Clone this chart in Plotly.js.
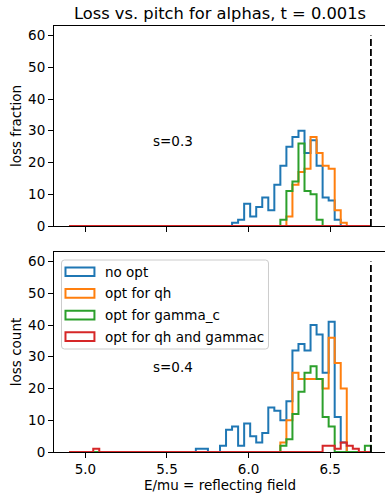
<!DOCTYPE html>
<html><head><meta charset="utf-8">
<script src="https://cdn.plot.ly/plotly-3.0.1.min.js"></script>
<style>html,body{margin:0;padding:0;overflow:hidden;background:#fff}#chart{width:390px;height:493px}</style>
</head><body><div id="chart"></div><script>
// ---- data ----
const binStart = 4.9;
const binEnd = 6.75;
const nBins = 50;
const seriesNames = ["no opt", "opt for qh", "opt for gamma_c", "opt for qh and gammac"];
const seriesColors = ["#1f77b4", "#ff7f0e", "#2ca02c", "#d62728"];

// top panel: loss fraction (s=0.3)
const fracNoOpt = [0,0,0,0,0,0,0,0,0,0, 0,0,0,0,0,0,0,0,0,0, 0,0,0,0,0,0,0,1,2,7, 3,6,9,5,13,19,25,28,30,23, 27,19,9,8,2,0,0,0,0,0];
const fracQh    = [0,0,0,0,0,0,0,0,0,0, 0,0,0,0,0,0,0,0,0,0, 0,0,0,0,0,0,0,0,0,0, 0,0,0,0,0,0,3,13,17,18, 28,23,19,18,5,1,0,0,0,0];
const fracGamma = [0,0,0,0,0,0,0,0,0,0, 0,0,0,0,0,0,0,0,0,0, 0,0,0,0,0,0,0,0,0,0, 0,0,0,0,0,2,11,14,26,11, 10,2,0,0,0,0,0,0,0,0];
const fracBoth  = [0,0,0,0,0,0,0,0,0,0, 0,0,0,0,0,0,0,0,0,0, 0,0,0,0,0,0,0,0,0,0, 0,0,0,0,0,0,0,0,0,0, 0,0,0,0,0,0,0,0,0,0];

// bottom panel: loss count (s=0.4)
const cntNoOpt = [0,0,0,0,0,0,0,0,0,0, 0,0,0,0,0,0,0,0,0,0, 0,1,1,0,0,2,7,8,2,9, 5,3,6,14,13,10,16,32,34,32, 40,37,25,41,11,3,0,0,0,0];
const cntQh    = [0,0,0,0,0,0,0,0,0,0, 0,0,0,0,0,0,0,0,0,0, 0,0,0,0,0,0,0,0,0,0, 0,0,0,0,0,3,10,25,23,23, 23,23,20,36,28,20,0,0,0,0];
const cntGamma = [0,0,0,0,0,0,0,0,0,0, 0,0,0,0,0,0,0,0,0,0, 0,0,0,0,0,0,0,0,0,0, 0,0,0,0,0,2,4,12,19,25, 27,23,11,8,0,0,0,0,0,2];
const cntBoth  = [0,0,0,0,1,0,0,0,0,0, 0,0,0,0,0,0,0,0,0,0, 0,0,0,0,0,0,0,0,0,0, 0,0,0,0,0,0,0,0,0,0, 0,0,2,2,1,3,2,1,0,0];

const reflectX = 6.75;
const reflectY = [0, 60];
const xTickVals = [5.0, 5.5, 6.0, 6.5];
const yTickVals = [0, 10, 20, 30, 40, 50, 60];
const panelNotes = ["s=0.3", "s=0.4"];
const noteX = 5.40;
const noteY = 25;

// ---- build ----
const edges = Array.from({length: nBins + 1}, (_, i) => binStart + i * (binEnd - binStart) / nBins);
function step(counts) {
  const x = [edges[0]], y = [0];
  for (let i = 0; i < nBins; i++) { x.push(edges[i]); y.push(counts[i]); }
  x.push(edges[nBins]); y.push(0);
  return {x, y};
}
const traces = [];
const topSets = [fracNoOpt, fracQh, fracGamma, fracBoth];
const botSets = [cntNoOpt, cntQh, cntGamma, cntBoth];
topSets.forEach((c, i) => { const s = step(c); traces.push({x: s.x, y: s.y, xaxis: 'x2', yaxis: 'y2', type: 'scatter', mode: 'lines', line: {shape: 'hv', color: seriesColors[i], width: 2}, name: seriesNames[i], showlegend: false, hoverinfo: 'skip'}); });
botSets.forEach((c, i) => { const s = step(c); traces.push({x: s.x, y: s.y, xaxis: 'x', yaxis: 'y', type: 'scatter', mode: 'lines', line: {shape: 'hv', color: seriesColors[i], width: 2}, name: seriesNames[i], showlegend: false, hoverinfo: 'skip'}); });
[['x2','y2'],['x','y']].forEach(a => traces.push({x: [reflectX, reflectX], y: reflectY, xaxis: a[0], yaxis: a[1], type: 'scatter', mode: 'lines', line: {color: '#000', width: 1.8, dash: '7px,3px'}, showlegend: false, hoverinfo: 'skip'}));

// pixel geometry of the plot area
const W = 390, H = 493, L = 53.5, R = 386, T = 26, B = 452;
const pxX = p => (p - L) / (R - L);
const pxY = p => (B - p) / (B - T);
const xRange = [binStart - 0.05 * (binEnd - binStart), binEnd + 0.05 * (binEnd - binStart)];
const font = {family: 'DejaVu Sans', size: 13.5, color: '#000'};
const axisCommon = {showline: true, mirror: true, linecolor: '#000', linewidth: 1, ticks: 'outside', ticklen: 5, tickwidth: 1, tickcolor: '#000', showgrid: false, zeroline: false, automargin: false, tickfont: font};

// legend drawn as shapes + text
function roundRect(x0, y0, x1, y1, r) {
  const X0 = pxX(x0), X1 = pxX(x1), Y0 = pxY(y1), Y1 = pxY(y0);
  const rx = r / (R - L), ry = r / (B - T);
  return `M${X0+rx},${Y0} L${X1-rx},${Y0} Q${X1},${Y0} ${X1},${Y0+ry} L${X1},${Y1-ry} Q${X1},${Y1} ${X1-rx},${Y1} L${X0+rx},${Y1} Q${X0},${Y1} ${X0},${Y1-ry} L${X0},${Y0+ry} Q${X0},${Y0} ${X0+rx},${Y0} Z`;
}
const shapes = [{type: 'path', xref: 'paper', yref: 'paper', path: roundRect(61, 260, 268.3, 349, 3), line: {color: '#cccccc', width: 1}, fillcolor: 'rgba(255,255,255,0.8)', layer: 'above'}];
const annotations = [];
const rowY = [271.7, 293.4, 315.1, 336.6];
seriesNames.forEach((n, i) => {
  shapes.push({type: 'rect', xref: 'paper', yref: 'paper', x0: pxX(65), x1: pxX(94), y0: pxY(rowY[i] + 4.3), y1: pxY(rowY[i] - 4.3), line: {color: seriesColors[i], width: 2}, fillcolor: 'rgba(0,0,0,0)', layer: 'above'});
  annotations.push({xref: 'paper', yref: 'paper', x: pxX(103), y: pxY(rowY[i]), xanchor: 'left', yanchor: 'middle', text: n, showarrow: false, font: font});
});
annotations.push({xref: 'x2', yref: 'y2', x: noteX, y: noteY, xanchor: 'left', yanchor: 'bottom', yshift: -4, text: panelNotes[0], showarrow: false, font: font});
annotations.push({xref: 'x', yref: 'y', x: noteX, y: noteY, xanchor: 'left', yanchor: 'bottom', yshift: -4, text: panelNotes[1], showarrow: false, font: font});

const layout = {
  width: W, height: H,
  margin: {l: L, r: W - R, t: T, b: H - B, pad: 0},
  paper_bgcolor: '#fff', plot_bgcolor: '#fff',
  font: font,
  showlegend: false,
  title: {text: 'Loss vs. pitch for alphas, t = 0.001s', font: {family: 'DejaVu Sans', size: 16.3, color: '#000'}, xref: 'paper', x: 0.5, xanchor: 'center', yref: 'container', y: 1 - 13 / H, yanchor: 'middle'},
  xaxis: Object.assign({}, axisCommon, {domain: [0, 1], anchor: 'y', range: xRange, tickvals: xTickVals, tickformat: '.1f', title: {text: 'E/mu = reflecting field', font: font, standoff: 7}}),
  yaxis: Object.assign({}, axisCommon, {domain: [0, 200 / 426], anchor: 'x', range: [0, 63], tickvals: yTickVals, title: {text: 'loss count', font: font, standoff: 3}}),
  xaxis2: Object.assign({}, axisCommon, {domain: [0, 1], anchor: 'y2', matches: 'x', range: xRange, tickvals: xTickVals, showticklabels: false}),
  yaxis2: Object.assign({}, axisCommon, {domain: [226 / 426, 1], anchor: 'x2', range: [0, 63], tickvals: yTickVals, title: {text: 'loss fraction', font: font, standoff: 3}}),
  shapes: shapes,
  annotations: annotations
};
Plotly.newPlot('chart', traces, layout, {staticPlot: true, displayModeBar: false});
</script></body></html>
